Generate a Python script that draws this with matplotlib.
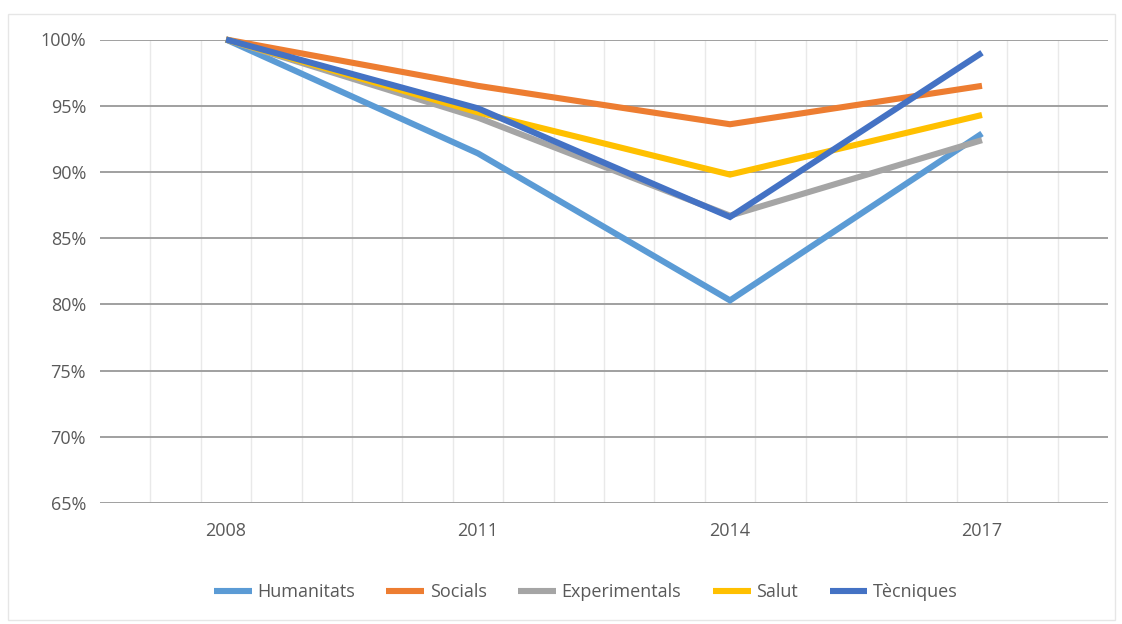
import numpy as np
import matplotlib
matplotlib.use('Agg')
import matplotlib.pyplot as plt
from matplotlib.patches import Rectangle
from matplotlib.ticker import FuncFormatter

plt.rcParams['font.family'] = ['Open Sans', 'DejaVu Sans']

years = ['2008', '2011', '2014', '2017']
humanitats = [100, 91.4, 80.3, 92.9]
socials = [100, 96.5, 93.6, 96.5]
experimentals = [100, 94.1, 86.7, 92.4]
salut = [100, 94.5, 89.8, 94.3]
tecniques = [100, 94.8, 86.6, 99.0]

series = [
    ('Humanitats', humanitats, '#5B9BD5'),
    ('Socials', socials, '#ED7D31'),
    ('Experimentals', experimentals, '#A5A5A5'),
    ('Salut', salut, '#FFC000'),
    ('Tècniques', tecniques, '#4472C4'),
]

fig = plt.figure(figsize=(11.22, 6.24), dpi=100)
ax = fig.add_axes([100 / 1122, 1 - 503 / 624, 1008 / 1122, 463.5 / 624])

x = np.arange(len(years))
for name, vals, col in series:
    ax.plot(x, vals, color=col, lw=4.4, label=name, solid_capstyle='butt',
            solid_joinstyle='miter', clip_on=False, zorder=3)

ax.set_xlim(-0.5, len(years) - 0.5)
ax.set_ylim(65, 100)
ax.set_yticks(np.arange(65, 101, 5))
ax.yaxis.set_major_formatter(FuncFormatter(lambda v, p: f'{v:.0f}%'))
ax.set_xticks(x)
ax.set_xticklabels(years)
ax.set_xticks(np.arange(-0.5, len(years) - 0.5, 0.2)[1:], minor=True)

ax.grid(axis='y', which='major', color='#A0A0A0', lw=1.4, zorder=1)
ax.grid(axis='x', which='minor', color='#E9E9E9', lw=1.0, zorder=0)
ax.grid(axis='x', which='major', visible=False)
for s in ax.spines.values():
    s.set_visible(False)
ax.tick_params(which='both', length=0)
ax.tick_params(axis='y', labelsize=13, labelcolor='#595959', pad=10)
ax.tick_params(axis='x', labelsize=13, labelcolor='#595959', pad=14)

fig.legend(loc='center', bbox_to_anchor=(0.522, 1 - 592 / 624), ncol=5,
           frameon=False, fontsize=13, handlelength=2.1, handletextpad=0.3,
           columnspacing=1.75, labelcolor='#595959')

fig.patches.append(Rectangle((8 / 1122, 4 / 624), 1107 / 1122, 606 / 624,
                             transform=fig.transFigure, fill=False,
                             edgecolor='#E6E6E6', lw=1.0))

fig.savefig('out.png', dpi=100)
